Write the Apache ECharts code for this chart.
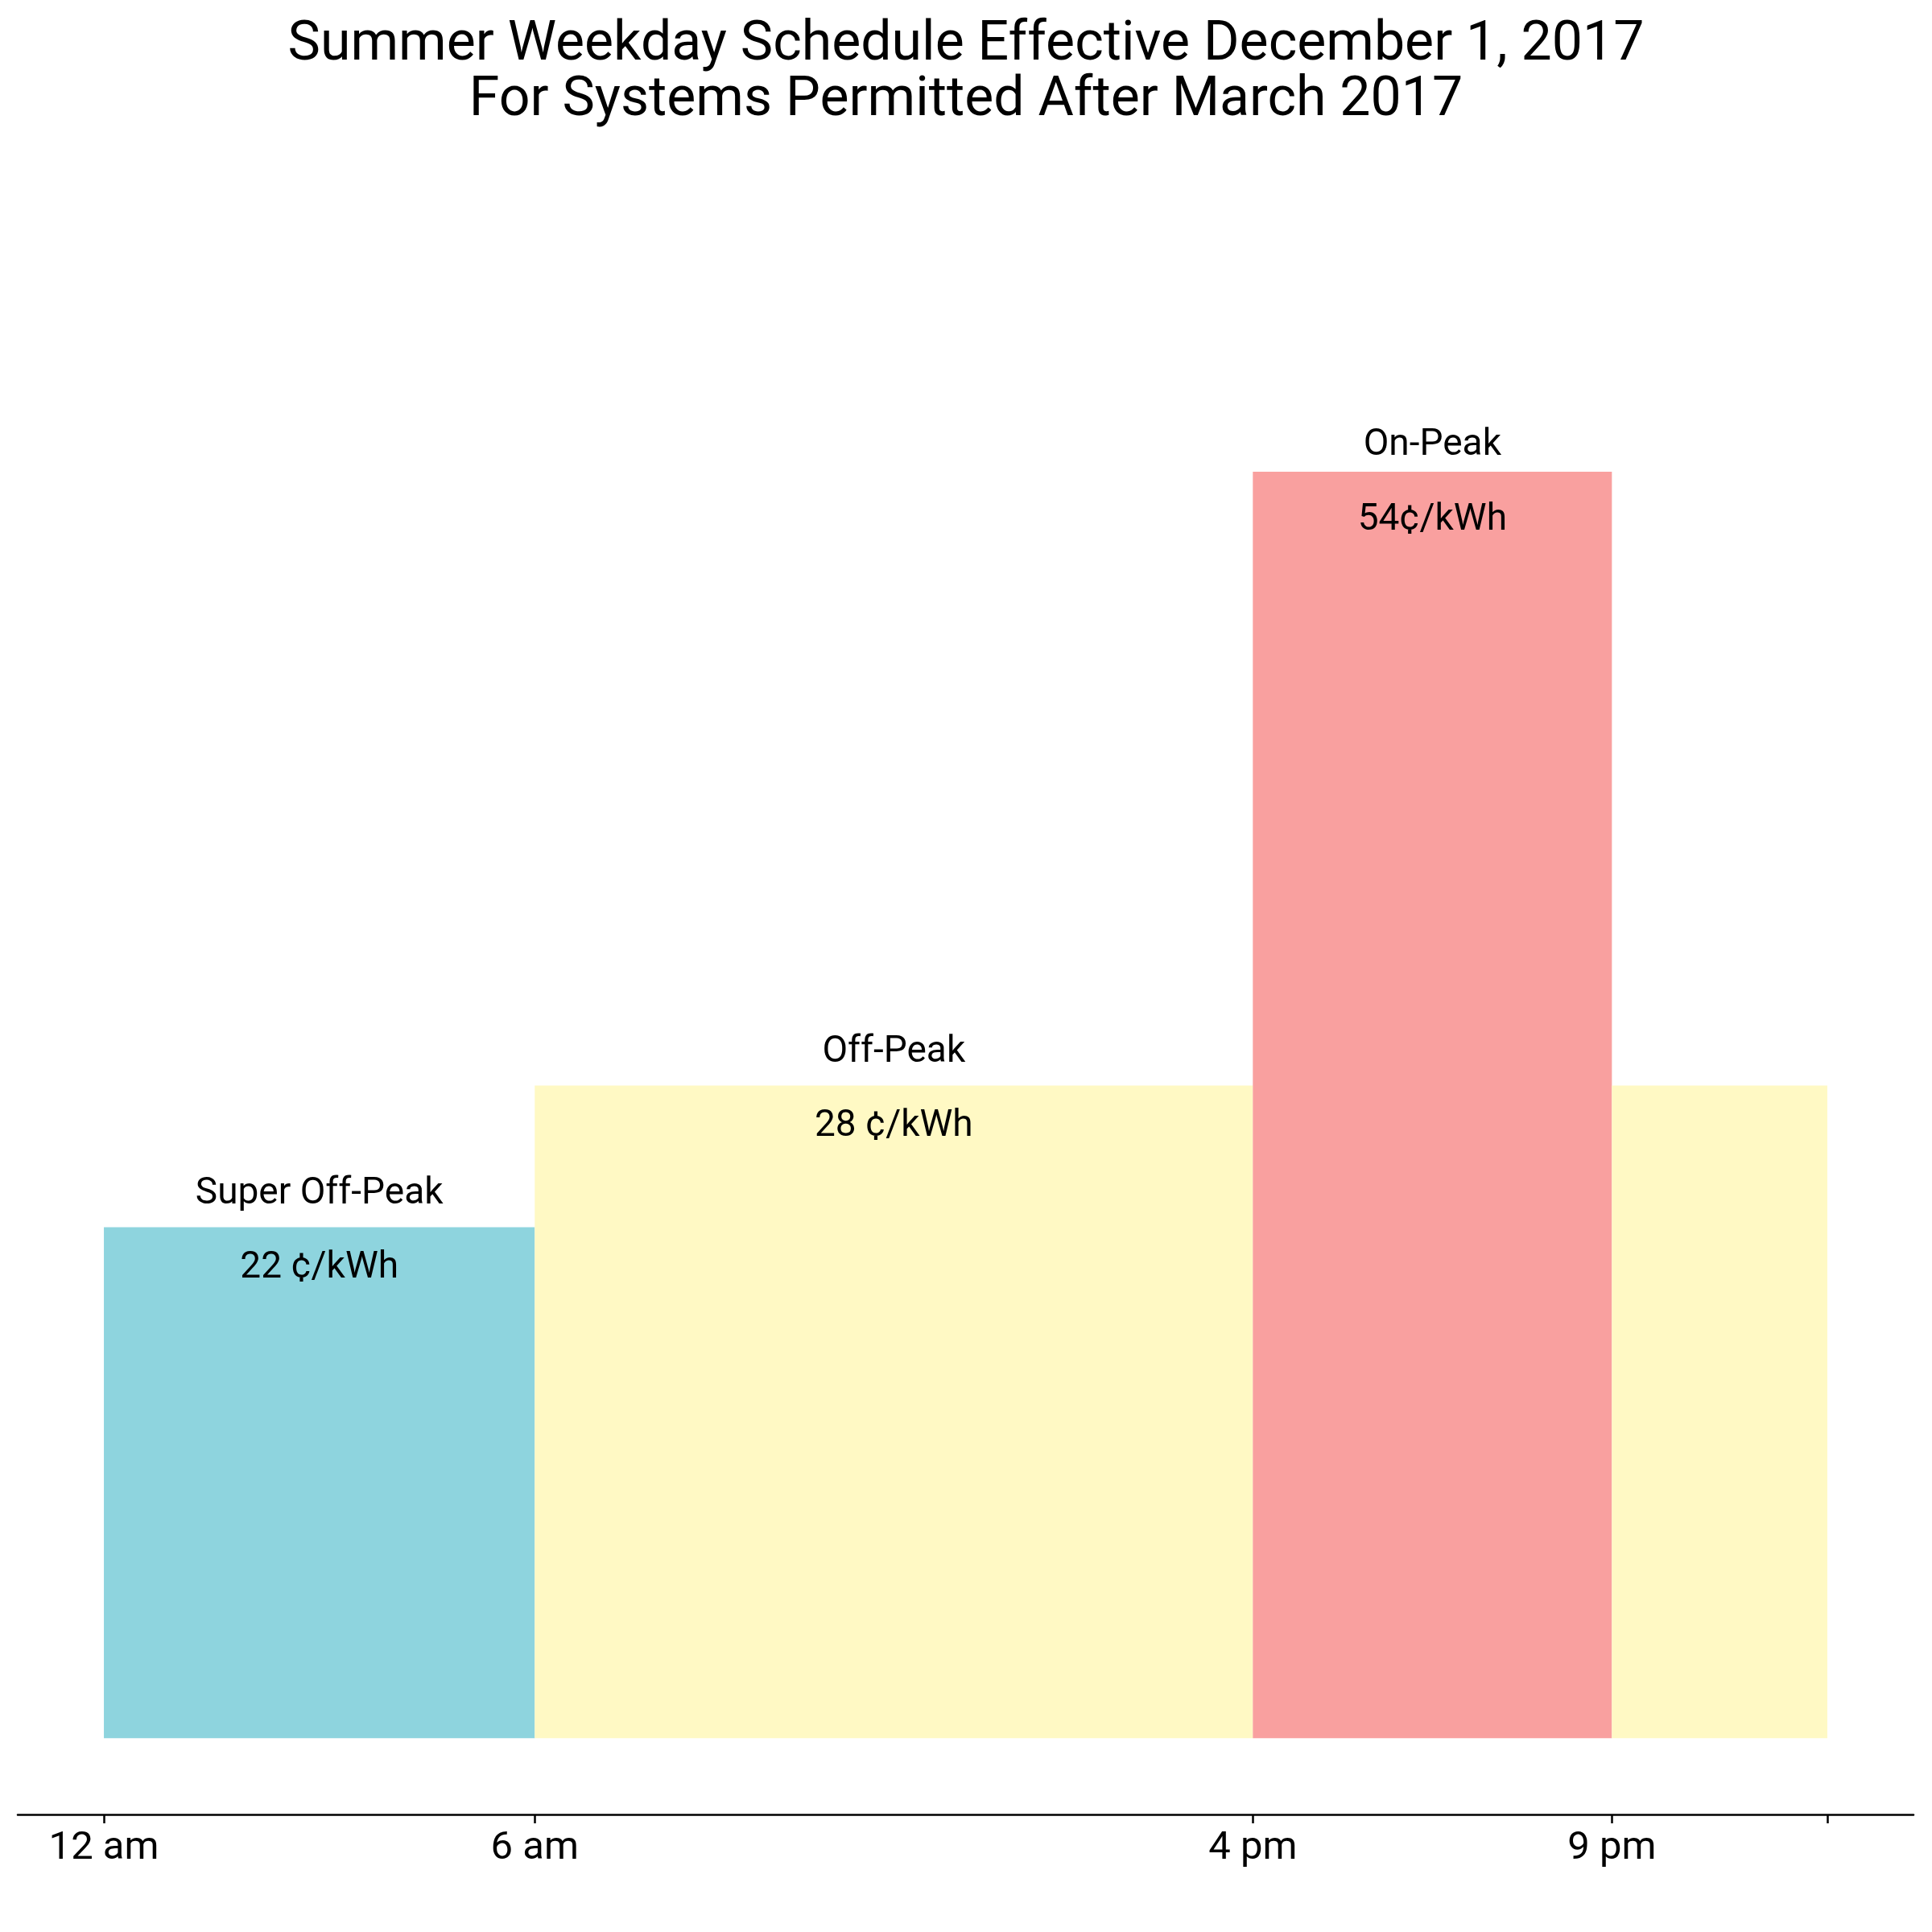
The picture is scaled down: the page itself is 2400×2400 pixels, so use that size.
<!DOCTYPE html>
<html>
<head>
<meta charset="utf-8">
<script src="https://cdn.jsdelivr.net/npm/echarts@6/dist/echarts.min.js"></script>
<style>
html,body{margin:0;padding:0;background:#fff;}
#chart{width:2400px;height:2400px;}
</style>
</head>
<body>
<div id="chart"></div>
<script>
// ---- data ----
const segStart = [0, 6, 16, 21];
const segEnd = [6, 16, 21, 24];
const segRate = [22, 28, 54, 28];
const segPeriod = ['Super Off-Peak', 'Off-Peak', 'On-Peak', 'Off-Peak'];
const barFloor = 0.35;

const periodNames = ['Super Off-Peak', 'Off-Peak', 'On-Peak'];
const periodCenter = [3, 11, 18.5];
const periodNameY = [23.4, 29.4, 55.1];
const periodRateY = [20.25, 26.25, 51.95];
const periodRateText = ['22 ¢/kWh', '28 ¢/kWh', '54¢/kWh'];

const tickHours = [0, 6, 16, 21, 24];
const labelHours = [0, 6, 16, 21];
const labelText = ['12 am', '6 am', '4 pm', '9 pm'];

const titleLines = ['Summer Weekday Schedule Effective December 1, 2017', 'For Systems Permitted After March 2017'];

const periodColor = {
  'Super Off-Peak': '#8ED4DE',
  'Off-Peak': '#FFF9C4',
  'On-Peak': '#F9A09F'
};

const segData = segStart.map((s, i) => [s, segEnd[i], segRate[i], segPeriod[i]]);
const nameData = periodNames.map((n, i) => [periodCenter[i], periodNameY[i], n]);
const rateData = periodNames.map((n, i) => [periodCenter[i], periodRateY[i], periodRateText[i]]);

const FONT = 'Roboto';

function textItem(params, api) {
  const p = api.coord([api.value(0), api.value(1)]);
  const src = params.seriesIndex === 1 ? nameData : rateData;
  return {
    type: 'text',
    x: p[0], y: p[1],
    style: {
      text: src[params.dataIndex][2],
      fill: '#000',
      font: '46px ' + FONT,
      align: 'center',
      verticalAlign: 'middle'
    }
  };
}

const chart = echarts.init(document.getElementById('chart'), null, {renderer: 'canvas'});
chart.setOption({
  animation: false,
  backgroundColor: '#ffffff',
  title: {
    text: titleLines.join('\n'),
    left: 'center',
    top: 17,
    textStyle: {
      fontFamily: FONT, fontSize: 68, fontWeight: 'normal', color: '#000', lineHeight: 69
    }
  },
  grid: {left: 22, right: 23, top: 410, bottom: 146, containLabel: false},
  xAxis: {
    type: 'value', min: -1.2, max: 25.2,
    splitLine: {show: false},
    axisLine: {show: true, onZero: false, lineStyle: {color: '#000', width: 2.5}},
    axisTick: {show: true, customValues: tickHours, length: 11, lineStyle: {color: '#000', width: 2.5}},
    axisLabel: {
      show: true, customValues: labelHours, margin: 18,
      fontFamily: FONT, fontSize: 49, color: '#000',
      formatter: v => { const i = labelHours.indexOf(v); return i >= 0 ? labelText[i] : ''; }
    }
  },
  yAxis: {
    type: 'value', min: -2.88, max: 60, show: false,
    splitLine: {show: false}
  },
  series: [
    {
      type: 'custom',
      data: segData,
      encode: {x: [0, 1], y: 2},
      renderItem: function (params, api) {
        const x0 = api.value(0), x1 = api.value(1), y = api.value(2);
        const p0 = api.coord([x0, y]);
        const p1 = api.coord([x1, barFloor]);
        const period = segData[params.dataIndex][3];
        return {
          type: 'rect',
          shape: {x: p0[0], y: p0[1], width: p1[0] - p0[0], height: p1[1] - p0[1]},
          style: {fill: periodColor[period]}
        };
      }
    },
    {
      type: 'custom', data: nameData, encode: {x: 0, y: 1},
      renderItem: textItem
    },
    {
      type: 'custom', data: rateData, encode: {x: 0, y: 1},
      renderItem: textItem
    }
  ]
});
</script>
</body>
</html>
